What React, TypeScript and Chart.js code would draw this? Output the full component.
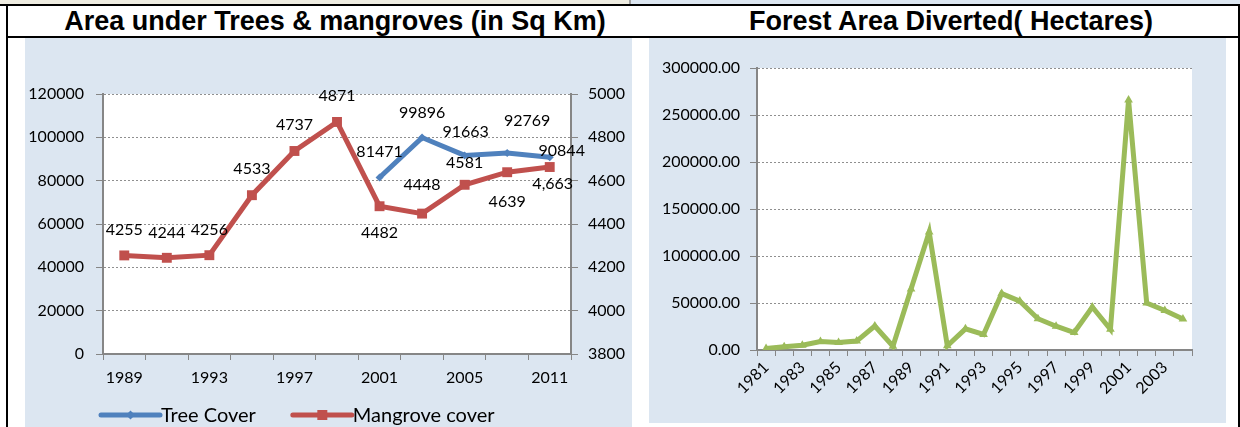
import React, { useEffect, useRef } from 'react';
import { Chart, registerables } from 'chart.js';

Chart.register(...registerables);

// ---------- data ----------
const coverYears = ['1989', '1991', '1993', '1995', '1997', '1999', '2001', '2003', '2005', '2009', '2011'];
const treeCover = [null, null, null, null, null, null, 81471, 99896, 91663, 92769, 90844];
const mangroveCover = [4255, 4244, 4256, 4533, 4737, 4871, 4482, 4448, 4581, 4639, 4663];
const treeLabels = ['', '', '', '', '', '', '81471', '99896', '91663', '92769', '90844'];
const mangroveLabels = ['4255', '4244', '4256', '4533', '4737', '4871', '4482', '4448', '4581', '4639', '4,663'];
const treeTicks = [0, 20000, 40000, 60000, 80000, 100000, 120000];
const mangroveTicks = [3800, 4000, 4200, 4400, 4600, 4800, 5000];

const divertedYears = ['1981', '1982', '1983', '1984', '1985', '1986', '1987', '1988', '1989', '1990', '1991', '1992',
  '1993', '1994', '1995', '1996', '1997', '1998', '1999', '2000', '2001', '2002', '2003', '2004'];
const divertedArea = [1500, 3500, 5000, 9000, 8000, 9500, 25500, 4000, 64800, 125500, 4500, 22500,
  16500, 60000, 52000, 33300, 25300, 18600, 45700, 22000, 266000, 50000, 42000, 33000];
const divertedTicks = [0, 50000, 100000, 150000, 200000, 250000, 300000];

// ---------- styling ----------
const FONT = 'Lato, "Noto Sans", sans-serif';
const AXIS = '#868686';
const GRID = '#8f8f8f';
const BLUE = '#4F81BD';
const RED = '#C0504D';
const GREEN = '#9BBB59';
const PANEL = '#DCE6F1';

const plotBg = {
  id: 'plotBg',
  beforeDraw(chart: any) {
    const { ctx, chartArea } = chart;
    ctx.save();
    ctx.fillStyle = '#ffffff';
    ctx.fillRect(chartArea.left, chartArea.top, chartArea.right - chartArea.left, chartArea.bottom - chartArea.top);
    ctx.restore();
  },
};

function makeValueLabels(sets: { dataset: number; labels: string[]; offsets: Record<number, [number, number]> }[]) {
  return {
    id: 'valueLabels',
    afterDatasetsDraw(chart: any) {
      const ctx = chart.ctx;
      ctx.save();
      ctx.font = `16px ${FONT}`;
      ctx.fillStyle = '#000';
      ctx.textAlign = 'center';
      ctx.textBaseline = 'middle';
      sets.forEach((set) => {
        const meta = chart.getDatasetMeta(set.dataset);
        const ds = chart.data.datasets[set.dataset];
        meta.data.forEach((pt: any, i: number) => {
          if (ds.data[i] == null) return;
          const off = set.offsets[i] || [0, -26];
          ctx.fillText(set.labels[i], pt.x + off[0], pt.y + off[1]);
        });
      });
      ctx.restore();
    },
  };
}

function makeLineLegend(startX: number, y: number, lineLen: number, gap: number) {
  return {
    id: 'lineLegend',
    afterDraw(chart: any) {
      const ctx = chart.ctx;
      ctx.save();
      ctx.font = `20px ${FONT}`;
      ctx.textBaseline = 'middle';
      ctx.textAlign = 'left';
      let x = startX;
      chart.data.datasets.forEach((ds: any) => {
        ctx.strokeStyle = ds.borderColor;
        ctx.lineWidth = 5;
        ctx.lineCap = 'round';
        ctx.beginPath();
        ctx.moveTo(x, y);
        ctx.lineTo(x + lineLen, y);
        ctx.stroke();
        const cx = x + lineLen / 2;
        ctx.fillStyle = ds.borderColor;
        ctx.beginPath();
        if (ds.pointStyle === 'rect') {
          ctx.rect(cx - 5, y - 5, 10, 10);
        } else {
          ctx.moveTo(cx, y - 4.5);
          ctx.lineTo(cx + 4.5, y);
          ctx.lineTo(cx, y + 4.5);
          ctx.lineTo(cx - 4.5, y);
          ctx.closePath();
        }
        ctx.fill();
        ctx.fillStyle = '#000';
        ctx.fillText(ds.label, x + lineLen + 1, y + 1);
        x += lineLen + 1 + ctx.measureText(ds.label).width + gap;
      });
      ctx.restore();
    },
  };
}

const tickFont = { family: FONT, size: 16 };

export default function App() {
  const leftRef = useRef<HTMLCanvasElement>(null);
  const rightRef = useRef<HTMLCanvasElement>(null);

  useEffect(() => {
    const left = new Chart(leftRef.current as HTMLCanvasElement, {
      type: 'line',
      data: {
        labels: coverYears,
        datasets: [
          {
            label: 'Tree Cover',
            data: treeCover,
            yAxisID: 'y',
            borderColor: BLUE,
            backgroundColor: BLUE,
            borderWidth: 5,
            pointStyle: 'rectRot',
            pointRadius: 4,
            pointBorderWidth: 0,
            tension: 0,
          },
          {
            label: 'Mangrove cover',
            data: mangroveCover,
            yAxisID: 'y1',
            borderColor: RED,
            backgroundColor: RED,
            borderWidth: 5,
            pointStyle: 'rect',
            pointRadius: 7,
            pointBorderWidth: 0,
            tension: 0,
          },
        ],
      },
      options: {
        animation: false,
        responsive: false,
        maintainAspectRatio: false,
        layout: { padding: { top: 56, left: 0, right: 0, bottom: 0 } },
        plugins: { legend: { display: false }, tooltip: { enabled: false } },
        scales: {
          x: {
            type: 'category',
            offset: true,
            grid: { offset: true, drawOnChartArea: false, drawTicks: true, tickLength: 6, color: AXIS },
            border: { color: AXIS, width: 2 },
            ticks: {
              autoSkip: false,
              maxRotation: 0,
              minRotation: 0,
              color: '#000',
              font: tickFont,
              padding: 8,
              callback: (_v: any, i: number) => (i % 2 === 0 ? coverYears[i] : ''),
            },
            afterFit: (s: any) => { s.height = 73; },
          },
          y: {
            position: 'left',
            min: treeTicks[0],
            max: treeTicks[treeTicks.length - 1],
            afterBuildTicks: (s: any) => { s.ticks = treeTicks.map((v) => ({ value: v })); },
            ticks: { color: '#000', font: tickFont, padding: 12, callback: (v: any) => String(v) },
            grid: { color: GRID, tickLength: 7, tickColor: AXIS, tickBorderDash: [] },
            border: { color: AXIS, width: 2, dash: [2, 2] },
            afterFit: (s: any) => { s.width = 78; },
          },
          y1: {
            position: 'right',
            min: mangroveTicks[0],
            max: mangroveTicks[mangroveTicks.length - 1],
            afterBuildTicks: (s: any) => { s.ticks = mangroveTicks.map((v) => ({ value: v })); },
            ticks: { color: '#000', font: tickFont, padding: 10, callback: (v: any) => String(v) },
            grid: { drawOnChartArea: false, tickLength: 7, color: AXIS },
            border: { color: AXIS, width: 2 },
            afterFit: (s: any) => { s.width = 61; },
          },
        },
      } as any,
      plugins: [
        plotBg,
        makeValueLabels([
          {
            dataset: 1,
            labels: mangroveLabels,
            offsets: { 1: [0, -25], 2: [0, -25], 6: [0, 27], 7: [0, -29], 8: [0, -22], 9: [0, 30], 10: [3, 17] },
          },
          {
            dataset: 0,
            labels: treeLabels,
            offsets: { 7: [0, -25], 8: [1, -24], 9: [20, -32], 10: [12, -6] },
          },
        ]),
        makeLineLegend(76, 377, 59, 37),
      ],
    });

    const right = new Chart(rightRef.current as HTMLCanvasElement, {
      type: 'line',
      data: {
        labels: divertedYears,
        datasets: [
          {
            label: 'Forest Area Diverted',
            data: divertedArea,
            borderColor: GREEN,
            backgroundColor: GREEN,
            borderWidth: 5,
            pointStyle: 'triangle',
            pointRadius: 5,
            pointBorderWidth: 0,
            tension: 0,
          },
        ],
      },
      options: {
        animation: false,
        responsive: false,
        maintainAspectRatio: false,
        layout: { padding: { top: 30, left: 0, right: 34, bottom: 0 } },
        plugins: { legend: { display: false }, tooltip: { enabled: false } },
        scales: {
          x: {
            type: 'category',
            offset: true,
            grid: { offset: true, drawOnChartArea: false, drawTicks: true, tickLength: 6, color: AXIS },
            border: { color: AXIS, width: 2 },
            ticks: {
              autoSkip: false,
              maxRotation: 45,
              minRotation: 45,
              color: '#000',
              font: tickFont,
              padding: 2,
              callback: (_v: any, i: number) => (i % 2 === 0 ? divertedYears[i] : ''),
            },
            afterFit: (s: any) => { s.height = 73; },
          },
          y: {
            position: 'left',
            min: divertedTicks[0],
            max: divertedTicks[divertedTicks.length - 1],
            afterBuildTicks: (s: any) => { s.ticks = divertedTicks.map((v) => ({ value: v })); },
            ticks: { color: '#000', font: tickFont, padding: 10, callback: (v: any) => Number(v).toFixed(2) },
            grid: { color: GRID, tickLength: 7, tickColor: AXIS, tickBorderDash: [] },
            border: { color: AXIS, width: 2, dash: [2, 2] },
            afterFit: (s: any) => { s.width = 108; },
          },
        },
      } as any,
      plugins: [plotBg],
    });

    return () => {
      left.destroy();
      right.destroy();
    };
  }, []);

  const titleStyle: React.CSSProperties = {
    position: 'absolute',
    top: 6,
    height: 30,
    lineHeight: '30px',
    textAlign: 'center',
    fontFamily: '"Liberation Sans", Arial, sans-serif',
    fontWeight: 'bold',
    fontSize: 27,
    color: '#000',
    whiteSpace: 'nowrap',
  };

  return (
    <div style={{ position: 'absolute', left: 0, top: 0, width: 1240, height: 427, background: '#fff', overflow: 'hidden' }}>
      <div style={{ position: 'absolute', left: 0, top: 0, width: 629, height: 4, background: '#EEECE1' }} />
      <div style={{ position: 'absolute', left: 629, top: 0, width: 2, height: 4, background: '#A0A0A0' }} />
      <div style={{ position: 'absolute', left: 631, top: 0, width: 609, height: 4, background: PANEL }} />
      <div style={{ position: 'absolute', left: 0, top: 4, width: 1240, height: 2, background: '#000' }} />
      <div style={{ position: 'absolute', left: 6, top: 4, width: 2, height: 423, background: '#000' }} />
      <div style={{ position: 'absolute', left: 1238, top: 4, width: 2, height: 423, background: '#000' }} />
      <div style={{ position: 'absolute', left: 8, top: 36, width: 1230, height: 2, background: '#000' }} />
      <div style={{ ...titleStyle, left: 8, width: 654 }}>Area under Trees &amp; mangroves (in Sq Km)</div>
      <div style={{ ...titleStyle, left: 662, width: 578 }}>Forest Area Diverted( Hectares)</div>
      <canvas
        ref={leftRef}
        width={607}
        height={389}
        style={{ position: 'absolute', left: 25, top: 38, width: 607, height: 389, background: PANEL }}
      />
      <canvas
        ref={rightRef}
        width={577}
        height={385}
        style={{ position: 'absolute', left: 649, top: 38, width: 577, height: 385, background: PANEL }}
      />
    </div>
  );
}
